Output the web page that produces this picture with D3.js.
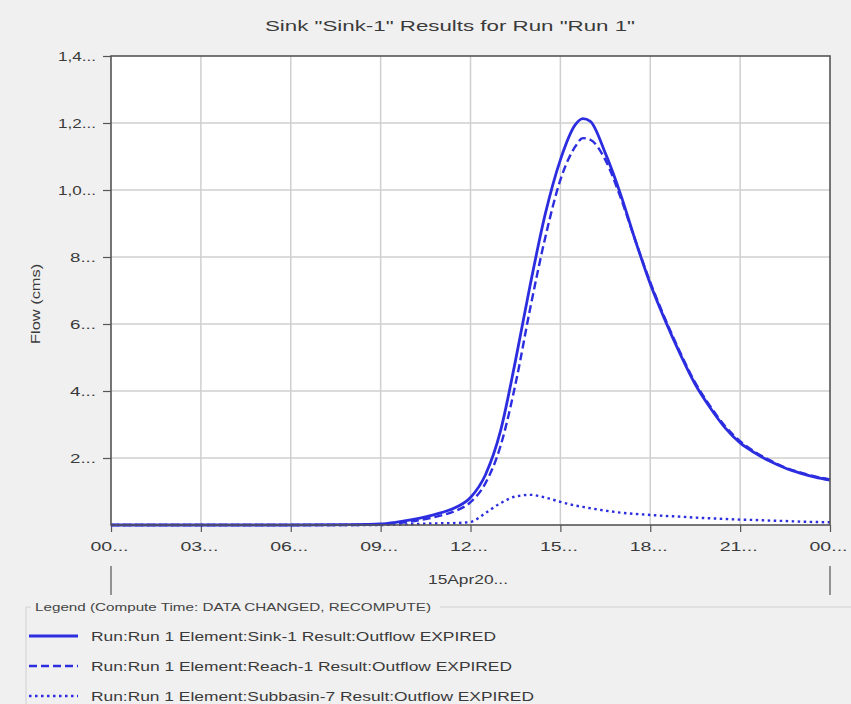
<!DOCTYPE html>
<html>
<head>
<meta charset="utf-8">
<script src="https://cdn.jsdelivr.net/npm/d3@7"></script>
<style>
    body { margin: 0; background: #f0f0f0; }
    svg { display: block; font-family: "Liberation Sans", Arial, sans-serif; }
</style>
</head>
<body>
<div id="chart"></div>
<script>
// time in hours from 00:00 on 15Apr20
const hours = [0, 3, 6, 8, 9, 9.5, 10, 10.5, 11, 11.5, 12, 12.5, 13, 13.5, 14, 14.5, 15, 15.5, 15.75, 16, 16.5, 17, 17.5, 18, 18.5, 19, 19.5, 20, 20.5, 21, 21.5, 22, 22.5, 23, 23.5, 24];
const sinkFlow = [0, 0, 0, 0.001, 0.003, 0.008, 0.015, 0.024, 0.036, 0.052, 0.082, 0.15, 0.28, 0.49, 0.72, 0.93, 1.09, 1.195, 1.213, 1.205, 1.11, 0.99, 0.85, 0.72, 0.61, 0.51, 0.42, 0.35, 0.29, 0.245, 0.215, 0.19, 0.17, 0.155, 0.143, 0.134];
const reachFlow = [0, 0, 0, 0, 0.002, 0.005, 0.01, 0.018, 0.028, 0.042, 0.068, 0.125, 0.235, 0.42, 0.65, 0.86, 1.03, 1.13, 1.155, 1.15, 1.09, 0.98, 0.85, 0.725, 0.615, 0.515, 0.425, 0.355, 0.295, 0.25, 0.218, 0.193, 0.172, 0.157, 0.145, 0.136];
const subbasinFlow = [0, 0, 0, 0, 0, 0.001, 0.002, 0.004, 0.005, 0.006, 0.009, 0.036, 0.065, 0.085, 0.09, 0.082, 0.069, 0.058, 0.054, 0.05, 0.043, 0.037, 0.033, 0.03, 0.027, 0.025, 0.022, 0.02, 0.018, 0.016, 0.015, 0.013, 0.012, 0.01, 0.009, 0.008];

const xTicks = [0, 3, 6, 9, 12, 15, 18, 21, 24];
const xTickLabels = ['00...', '03...', '06...', '09...', '12...', '15...', '18...', '21...', '00...'];
const yTicks = [0.2, 0.4, 0.6, 0.8, 1.0, 1.2, 1.4];
const yTickLabels = ['2...', '4...', '6...', '8...', '1,0...', '1,2...', '1,4...'];

const seriesNames = [
    'Run:Run 1 Element:Sink-1 Result:Outflow EXPIRED',
    'Run:Run 1 Element:Reach-1 Result:Outflow EXPIRED',
    'Run:Run 1 Element:Subbasin-7 Result:Outflow EXPIRED'
];

const w = 851, h = 704;
const margin = { left: 111, right: 21, top: 56, bottom: 179 };
const blue = '#2d2de0';
const textColor = '#3a3a3a';

const series = [
    { name: seriesNames[0], values: sinkFlow, dash: null, width: 2.8, len: 405 },
    { name: seriesNames[1], values: reachFlow, dash: '8,4', width: 2.4, len: 421 },
    { name: seriesNames[2], values: subbasinFlow, dash: '2.5,3.5', width: 2.4, len: 443 }
];

const svg = d3.select('#chart')
    .append('svg')
    .attr('width', w)
    .attr('height', h);

svg.append('rect')
    .attr('width', w)
    .attr('height', h)
    .attr('fill', '#f0f0f0');

const x = d3.scaleLinear()
    .domain([0, 24])
    .range([margin.left, w - margin.right]);

const y = d3.scaleLinear()
    .domain([0, 1.4])
    .range([h - margin.bottom, margin.top]);

// title
svg.append('text')
    .attr('x', 265)
    .attr('y', 31)
    .attr('font-size', 15)
    .attr('fill', textColor)
    .attr('textLength', 370)
    .attr('lengthAdjust', 'spacingAndGlyphs')
    .text('Sink "Sink-1" Results for Run "Run 1"');

// plot background
svg.append('rect')
    .attr('x', x(0))
    .attr('y', y(1.4))
    .attr('width', x(24) - x(0))
    .attr('height', y(0) - y(1.4))
    .attr('fill', '#fff');

// grid
svg.append('g')
    .selectAll('line')
    .data(xTicks.slice(1, -1))
    .join('line')
    .attr('x1', d => x(d))
    .attr('x2', d => x(d))
    .attr('y1', y(1.4))
    .attr('y2', y(0))
    .attr('stroke', '#cfcfcf')
    .attr('stroke-width', 1.5);

svg.append('g')
    .selectAll('line')
    .data(yTicks.slice(0, -1))
    .join('line')
    .attr('x1', x(0))
    .attr('x2', x(24))
    .attr('y1', d => y(d))
    .attr('y2', d => y(d))
    .attr('stroke', '#cfcfcf')
    .attr('stroke-width', 1.5);

// axes
const xAxis = d3.axisBottom(x)
    .tickValues(xTicks)
    .tickSize(7)
    .tickPadding(10)
    .tickFormat((d, i) => xTickLabels[i]);

const yAxis = d3.axisLeft(y)
    .tickValues(yTicks)
    .tickSize(8)
    .tickPadding(7)
    .tickFormat((d, i) => yTickLabels[i]);

const gx = svg.append('g')
    .attr('transform', 'translate(0,' + y(0) + ')')
    .call(xAxis);
const gy = svg.append('g')
    .attr('transform', 'translate(' + x(0) + ',0)')
    .call(yAxis);

[gx, gy].forEach(g => {
    g.select('.domain').remove();
    g.selectAll('line').attr('stroke', '#555').attr('stroke-width', 1.2);
    g.selectAll('text')
        .attr('fill', textColor)
        .attr('font-size', 13)
        .attr('font-family', '"Liberation Sans", Arial, sans-serif');
});
gx.selectAll('text')
    .attr('dx', -2)
    .attr('textLength', 38)
    .attr('lengthAdjust', 'spacingAndGlyphs');
gy.selectAll('text')
    .attr('textLength', (d, i) => yTickLabels[i].length > 4 ? 38 : 26)
    .attr('lengthAdjust', 'spacingAndGlyphs');

// date row
svg.append('text')
    .attr('x', 428)
    .attr('y', 584)
    .attr('font-size', 13)
    .attr('fill', textColor)
    .attr('textLength', 80)
    .attr('lengthAdjust', 'spacingAndGlyphs')
    .text('15Apr20...');

svg.append('g')
    .selectAll('line')
    .data([0, 24])
    .join('line')
    .attr('x1', d => x(d))
    .attr('x2', d => x(d))
    .attr('y1', 566)
    .attr('y2', 595)
    .attr('stroke', '#555')
    .attr('stroke-width', 1.2);

// y label
svg.append('text')
    .attr('transform', 'translate(40,' + y(0.66) + ') rotate(-90)')
    .attr('text-anchor', 'middle')
    .attr('font-size', 13)
    .attr('fill', textColor)
    .attr('textLength', 80)
    .attr('lengthAdjust', 'spacingAndGlyphs')
    .text('Flow (cms)');

// lines
const line = d3.line()
    .x((d, i) => x(hours[i]))
    .y(d => y(d))
    .curve(d3.curveMonotoneX);

const plot = svg.append('g');
for (let i = series.length - 1; i >= 0; i--) {
    plot.append('path')
        .datum(series[i].values)
        .attr('fill', 'none')
        .attr('stroke', blue)
        .attr('stroke-width', series[i].width)
        .attr('stroke-dasharray', series[i].dash)
        .attr('d', line);
}

// plot frame
svg.append('rect')
    .attr('x', x(0))
    .attr('y', y(1.4))
    .attr('width', x(24) - x(0))
    .attr('height', y(0) - y(1.4))
    .attr('fill', 'none')
    .attr('stroke', '#555')
    .attr('stroke-width', 1.6);

// legend
const legend = svg.append('g');
legend.append('path')
    .attr('d', 'M26,' + (h + 2) + 'V607H31 M440,607H851')
    .attr('fill', 'none')
    .attr('stroke', '#d0d0d0');
legend.append('text')
    .attr('x', 35)
    .attr('y', 611)
    .attr('font-size', 11)
    .attr('fill', '#444')
    .attr('textLength', 396)
    .attr('lengthAdjust', 'spacingAndGlyphs')
    .text('Legend (Compute Time: DATA CHANGED, RECOMPUTE)');

series.forEach((s, i) => {
    const ly = 636 + i * 30;
    legend.append('line')
        .attr('x1', 29)
        .attr('x2', 78)
        .attr('y1', ly)
        .attr('y2', ly)
        .attr('stroke', blue)
        .attr('stroke-width', s.width)
        .attr('stroke-dasharray', s.dash);
    legend.append('text')
        .attr('x', 91)
        .attr('y', ly + 5)
        .attr('font-size', 13)
        .attr('fill', textColor)
        .attr('textLength', s.len)
        .attr('lengthAdjust', 'spacingAndGlyphs')
        .text(s.name);
});
</script>
</body>
</html>
